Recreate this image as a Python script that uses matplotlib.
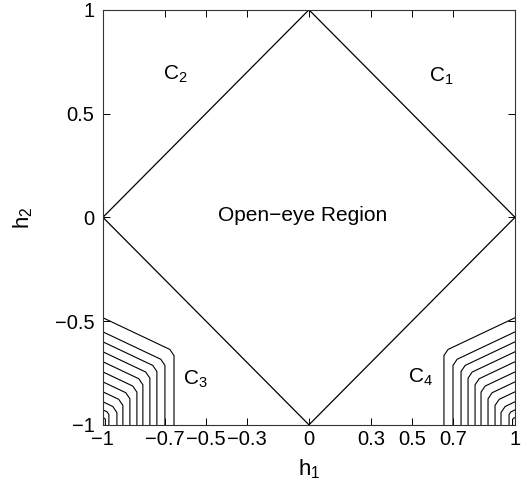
import numpy as np
import matplotlib
matplotlib.use("Agg")
import matplotlib.pyplot as plt

plt.rcParams['font.family'] = ['Liberation Sans', 'DejaVu Sans']
plt.rcParams['mathtext.default'] = 'regular'

# boundary of the open-eye region (|h1| + |h2| = 1)
diamond_h1 = [1, 0, -1, 0, 1]
diamond_h2 = [0, 1, 0, -1, 0]

# level curves in the C3 corner: where each meets h1 = -1 and h2 = -1
left_h2 = [-0.484, -0.552, -0.600, -0.648, -0.696, -0.745, -0.793, -0.841, -0.889, -0.928, -0.965]
foot_h1 = [-0.655, -0.699, -0.738, -0.772, -0.806, -0.835, -0.869, -0.903, -0.932, -0.971, -0.988]
slope = 0.47

region_labels = ['C$_1$', 'C$_2$', 'C$_3$', 'C$_4$', 'Open\u2212eye Region']
label_h1 = [0.64, -0.65, -0.55, 0.54, -0.03]
label_h2 = [0.68, 0.69, -0.78, -0.77, 0.01]

xticks = [-1, -0.7, -0.5, -0.3, 0, 0.3, 0.5, 0.7, 1]
yticks = [-1, -0.5, 0, 0.5, 1]

fig = plt.figure(figsize=(5.25, 4.9), dpi=100)
ax = fig.add_axes([0.196, 0.133, 0.785, 0.847])

ax.plot(diamond_h1, diamond_h2, color='k', lw=0.9)

for y0, fx in zip(left_h2, foot_h1):
    yc = y0 - slope * (fx + 1)
    bend = min(0.02, (fx + 1) * 0.3)
    xs = np.array([-1, fx - bend, fx, fx])
    ys = np.array([y0, yc + slope * bend, yc - bend, -1])
    ax.plot(xs, ys, color='k', lw=0.8)
    # C4 corner mirrors C3 across h1 = 0
    ax.plot(-xs, ys, color='k', lw=0.8)

for txt, x, y in zip(region_labels, label_h1, label_h2):
    ax.text(x, y, txt, fontsize=15, ha='center', va='center')

ax.set_xlim(-1, 1)
ax.set_ylim(-1, 1)
ax.set_xticks(xticks)
ax.set_xticklabels(['\u22121', '\u22120.7', '\u22120.5', '\u22120.3', '0', '0.3', '0.5', '0.7', '1'])
ax.set_yticks(yticks)
ax.set_yticklabels(['\u22121', '\u22120.5', '0', '0.5', '1'])
ax.tick_params(axis='x', direction='in', length=5, width=0.7, top=True, labelsize=14.5, pad=4)
ax.tick_params(axis='y', direction='in', length=5, width=0.7, right=True, labelsize=14.5, pad=6)
for s in ax.spines.values():
    s.set_linewidth(0.8)
    s.set_color('#333333')

ax.set_xlabel('h$_1$', fontsize=16, labelpad=6)
ax.set_ylabel('h$_2$', fontsize=16, labelpad=14)

fig.savefig('out.png', dpi=100)
